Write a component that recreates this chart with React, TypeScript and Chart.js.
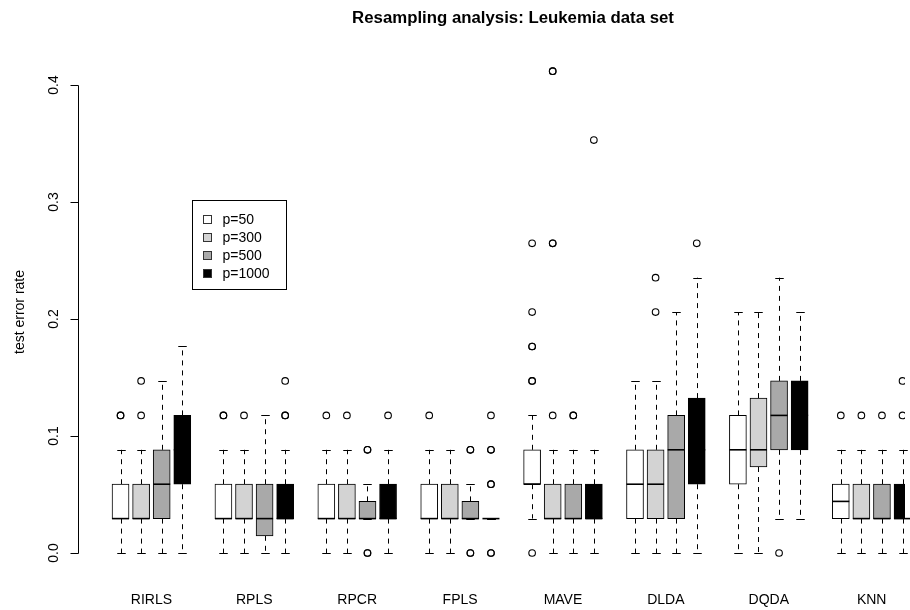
import React, { useEffect, useRef } from 'react';
import { Chart, registerables } from 'chart.js';

Chart.register(...registerables);

// ---------- data ----------
const methods = ['RIRLS', 'RPLS', 'RPCR', 'FPLS', 'MAVE', 'DLDA', 'DQDA', 'KNN'];
const seriesLabels = ['p=50', 'p=300', 'p=500', 'p=1000'];
const seriesFill = ['#ffffff', '#d3d3d3', '#a9a9a9', '#000000'];
const yTickValues = [0, 0.1, 0.2, 0.3, 0.4];
const yTickLabels = ['0.0', '0.1', '0.2', '0.3', '0.4'];
const titleText = 'Resampling analysis: Leukemia data set';
const yTitleText = 'test error rate';

// per method: [lower whisker, Q1, median, Q3, upper whisker]
const statsP50 = [
  [0, 0.0294, 0.0294, 0.0588, 0.0882],
  [0, 0.0294, 0.0294, 0.0588, 0.0882],
  [0, 0.0294, 0.0294, 0.0588, 0.0882],
  [0, 0.0294, 0.0294, 0.0588, 0.0882],
  [0.0294, 0.0588, 0.0588, 0.0882, 0.1176],
  [0, 0.0294, 0.0588, 0.0882, 0.1471],
  [0, 0.0588, 0.0882, 0.1176, 0.2059],
  [0, 0.0294, 0.0441, 0.0588, 0.0882],
];
const statsP300 = [
  [0, 0.0294, 0.0294, 0.0588, 0.0882],
  [0, 0.0294, 0.0294, 0.0588, 0.0882],
  [0, 0.0294, 0.0294, 0.0588, 0.0882],
  [0, 0.0294, 0.0294, 0.0588, 0.0882],
  [0, 0.0294, 0.0294, 0.0588, 0.0882],
  [0, 0.0294, 0.0588, 0.0882, 0.1471],
  [0, 0.0735, 0.0882, 0.1324, 0.2059],
  [0, 0.0294, 0.0294, 0.0588, 0.0882],
];
const statsP500 = [
  [0, 0.0294, 0.0588, 0.0882, 0.1471],
  [0, 0.0147, 0.0294, 0.0588, 0.1176],
  [0.0294, 0.0294, 0.0294, 0.0441, 0.0588],
  [0.0294, 0.0294, 0.0294, 0.0441, 0.0588],
  [0, 0.0294, 0.0294, 0.0588, 0.0882],
  [0, 0.0294, 0.0882, 0.1176, 0.2059],
  [0.0294, 0.0882, 0.1176, 0.1471, 0.2353],
  [0, 0.0294, 0.0294, 0.0588, 0.0882],
];
const statsP1000 = [
  [0, 0.0588, 0.0882, 0.1176, 0.1765],
  [0, 0.0294, 0.0294, 0.0588, 0.0882],
  [0, 0.0294, 0.0294, 0.0588, 0.0882],
  [0.0294, 0.0294, 0.0294, 0.0294, 0.0294],
  [0, 0.0294, 0.0294, 0.0588, 0.0882],
  [0, 0.0588, 0.0882, 0.1324, 0.2353],
  [0.0294, 0.0882, 0.1176, 0.1471, 0.2059],
  [0, 0.0294, 0.0294, 0.0588, 0.0882],
];

// outliers per method (repeated values are repeated resamples)
const outliersP50 = [
  [0.1176, 0.1176],
  [0.1176, 0.1176],
  [0.1176],
  [0.1176],
  [0, 0.1471, 0.1471, 0.1765, 0.1765, 0.2059, 0.2647],
  [],
  [],
  [0.1176],
];
const outliersP300 = [
  [0.1176, 0.1471],
  [0.1176],
  [0.1176],
  [],
  [0.1176, 0.2647, 0.2647, 0.4118, 0.4118],
  [0.2059, 0.2353],
  [],
  [0.1176],
];
const outliersP500 = [
  [],
  [],
  [0, 0, 0.0882, 0.0882],
  [0, 0, 0.0882, 0.0882],
  [0.1176, 0.1176],
  [],
  [0],
  [0.1176],
];
const outliersP1000 = [
  [],
  [0.1176, 0.1176, 0.1471],
  [0.1176],
  [0, 0, 0.0588, 0.0588, 0.0882, 0.0882, 0.1176],
  [0.3529],
  [0.2647],
  [],
  [0.1176, 0.1471],
];

const allStats = [statsP50, statsP300, statsP500, statsP1000];
const allOutliers = [outliersP50, outliersP300, outliersP500, outliersP1000];

// ---------- helpers ----------
const GROUP_STRIDE = 5; // 4 boxes + 1 gap per method
const boxPos = (g: number, s: number) => g * GROUP_STRIDE + s;
const FONT = "'Liberation Sans', Arial, Helvetica, sans-serif";
const BOX_W = 17;

const boxExtras = {
  id: 'boxExtras',
  beforeDatasetsDraw(chart: any) {
    const { ctx } = chart;
    const xs = chart.scales.x;
    const ys = chart.scales.y;
    ctx.save();
    ctx.strokeStyle = '#000';
    ctx.lineWidth = 1;
    allStats.forEach((stats, s) => {
      stats.forEach((st, g) => {
        const [lo, q1, , q3, hi] = st;
        const x = Math.round(xs.getPixelForValue(boxPos(g, s))) + 0.5;
        ctx.setLineDash([5, 5]);
        ctx.beginPath();
        ctx.moveTo(x, ys.getPixelForValue(q3));
        ctx.lineTo(x, ys.getPixelForValue(hi));
        ctx.moveTo(x, ys.getPixelForValue(q1));
        ctx.lineTo(x, ys.getPixelForValue(lo));
        ctx.stroke();
        ctx.setLineDash([]);
        ctx.beginPath();
        const yh = Math.round(ys.getPixelForValue(hi)) + 0.5;
        const yl = Math.round(ys.getPixelForValue(lo)) + 0.5;
        ctx.moveTo(x - BOX_W / 4, yh);
        ctx.lineTo(x + BOX_W / 4, yh);
        ctx.moveTo(x - BOX_W / 4, yl);
        ctx.lineTo(x + BOX_W / 4, yl);
        ctx.stroke();
      });
    });
    ctx.restore();
  },
  afterDatasetsDraw(chart: any) {
    const { ctx } = chart;
    const xs = chart.scales.x;
    const ys = chart.scales.y;
    ctx.save();
    ctx.strokeStyle = '#000';
    ctx.lineWidth = 1.6;
    allStats.forEach((stats, s) => {
      stats.forEach((st, g) => {
        const med = st[2];
        const x = xs.getPixelForValue(boxPos(g, s));
        const y = ys.getPixelForValue(med);
        ctx.beginPath();
        ctx.moveTo(x - BOX_W / 2, y);
        ctx.lineTo(x + BOX_W / 2, y);
        ctx.stroke();
      });
    });
    ctx.restore();
  },
  afterDraw(chart: any) {
    const { ctx } = chart;
    const xs = chart.scales.x;
    const ys = chart.scales.y;
    const left = chart.chartArea.left;
    ctx.save();
    ctx.fillStyle = '#000';
    ctx.strokeStyle = '#000';
    ctx.lineWidth = 1;

    // y axis
    const ax = Math.round(left) + 0.5;
    const y0 = Math.round(ys.getPixelForValue(yTickValues[0])) + 0.5;
    const y1 = Math.round(ys.getPixelForValue(yTickValues[yTickValues.length - 1])) + 0.5;
    ctx.beginPath();
    ctx.moveTo(ax, y0);
    ctx.lineTo(ax, y1);
    yTickValues.forEach((v) => {
      const y = Math.round(ys.getPixelForValue(v)) + 0.5;
      ctx.moveTo(ax, y);
      ctx.lineTo(ax - 8, y);
    });
    ctx.stroke();

    ctx.font = `14px ${FONT}`;
    ctx.textAlign = 'center';
    ctx.textBaseline = 'alphabetic';
    yTickValues.forEach((v, i) => {
      const y = ys.getPixelForValue(v);
      ctx.save();
      ctx.translate(ax - 21, y);
      ctx.rotate(-Math.PI / 2);
      ctx.fillText(yTickLabels[i], 0, 0);
      ctx.restore();
    });

    // y title
    ctx.save();
    ctx.translate(ax - 55, (chart.chartArea.top + chart.chartArea.bottom) / 2);
    ctx.rotate(-Math.PI / 2);
    ctx.fillText(yTitleText, 0, 0);
    ctx.restore();

    // x category labels
    methods.forEach((m, g) => {
      const x = xs.getPixelForValue(boxPos(g, 1.5));
      ctx.fillText(m, x, chart.chartArea.bottom + 32);
    });

    // title
    ctx.font = `bold 16.8px ${FONT}`;
    ctx.fillText(titleText, 513, 23);

    // legend
    const lx = 192.5, ly = 200.5, lw = 94, lh = 89;
    ctx.fillStyle = '#fff';
    ctx.fillRect(lx, ly, lw, lh);
    ctx.strokeRect(lx, ly, lw, lh);
    ctx.font = `14px ${FONT}`;
    ctx.textAlign = 'left';
    ctx.textBaseline = 'middle';
    seriesLabels.forEach((lab, i) => {
      const ry = 219 + i * 18;
      const sy = Math.round(ry - 4) + 0.5;
      ctx.fillStyle = seriesFill[i];
      ctx.fillRect(203.5, sy, 8, 8);
      ctx.strokeStyle = '#333';
      ctx.strokeRect(203.5, sy, 8, 8);
      ctx.fillStyle = '#000';
      ctx.fillText(lab, 222.5, ry + 1);
    });
    ctx.restore();
  },
};

export default function App() {
  const ref = useRef<HTMLCanvasElement | null>(null);
  useEffect(() => {
    if (!ref.current) return;
    const barSets = allStats.map((stats, s) => ({
      type: 'bar' as const,
      label: seriesLabels[s],
      data: stats.map((st, g) => ({ x: boxPos(g, s), y: [st[1], st[3]] })),
      backgroundColor: seriesFill[s],
      borderColor: '#000',
      borderWidth: 1,
      borderSkipped: false,
      barThickness: BOX_W,
      grouped: false,
      order: 2,
    }));
    const outlierSets = allOutliers.map((outs, s) => ({
      type: 'scatter' as const,
      label: seriesLabels[s] + ' outliers',
      data: outs.flatMap((arr, g) => arr.map((v) => ({ x: boxPos(g, s), y: v }))),
      pointRadius: 3.3,
      pointBorderWidth: 1.1,
      pointBorderColor: '#000',
      pointBackgroundColor: 'rgba(0,0,0,0)',
      showLine: false,
      order: 1,
    }));
    const chart = new Chart(ref.current, {
      type: 'bar',
      data: { datasets: [...barSets, ...outlierSets] as any },
      options: {
        responsive: false,
        animation: false,
        devicePixelRatio: 1,
        events: [],
        layout: { padding: { left: 78, right: 0, top: 52, bottom: 38 } },
        plugins: { legend: { display: false }, tooltip: { enabled: false }, title: { display: false } },
        scales: {
          x: { type: 'linear', display: false, offset: false, min: -2.067, max: 38.115 },
          y: { type: 'linear', display: false, min: -0.01624, max: 0.42821 },
        },
      },
      plugins: [boxExtras],
    });
    return () => chart.destroy();
  }, []);
  return (
    <div style={{ position: 'fixed', left: 0, top: 0, width: 910, height: 610, background: '#fff' }}>
      <canvas ref={ref} width={910} height={610} style={{ display: 'block', width: 910, height: 610 }} />
    </div>
  );
}
